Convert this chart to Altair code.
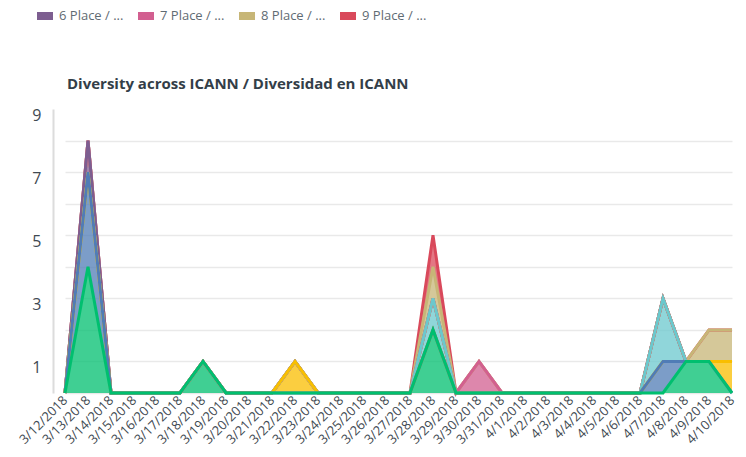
import altair as alt
import pandas as pd

dates = ["3/12/2018", "3/13/2018", "3/14/2018", "3/15/2018", "3/16/2018", "3/17/2018",
         "3/18/2018", "3/19/2018", "3/20/2018", "3/21/2018", "3/22/2018", "3/23/2018",
         "3/24/2018", "3/25/2018", "3/26/2018", "3/27/2018", "3/28/2018", "3/29/2018",
         "3/30/2018", "3/31/2018", "4/1/2018", "4/2/2018", "4/3/2018", "4/4/2018",
         "4/5/2018", "4/6/2018", "4/7/2018", "4/8/2018", "4/9/2018", "4/10/2018"]

series = ["1 Place / 1 Lugar", "2 Place / 2 Lugar", "3 Place / 3 Lugar",
          "4 Place / 4 Lugar", "5 Place / 5 Lugar", "6 Place / 6 Lugar",
          "7 Place / 7 Lugar", "8 Place / 8 Lugar", "9 Place / 9 Lugar"]

colors = ["#00BF6F", "#507CB6", "#F9BE00", "#6BC8CD", "#FF8B4F",
          "#7D5E90", "#D25F90", "#C7B677", "#D9495B"]

place1 = [0, 4, 0, 0, 0, 0, 1, 0, 0, 0, 0, 0, 0, 0, 0, 0, 2, 0, 0, 0, 0, 0, 0, 0, 0, 0, 0, 1, 1, 0]
place2 = [0, 3, 0, 0, 0, 0, 0, 0, 0, 0, 0, 0, 0, 0, 0, 0, 0, 0, 0, 0, 0, 0, 0, 0, 0, 0, 1, 0, 0, 0]
place3 = [0, 0, 0, 0, 0, 0, 0, 0, 0, 0, 1, 0, 0, 0, 0, 0, 0, 0, 0, 0, 0, 0, 0, 0, 0, 0, 0, 0, 0, 1]
place4 = [0, 0, 0, 0, 0, 0, 0, 0, 0, 0, 0, 0, 0, 0, 0, 0, 1, 0, 0, 0, 0, 0, 0, 0, 0, 0, 2, 0, 0, 0]
place5 = [0, 0, 0, 0, 0, 0, 0, 0, 0, 0, 0, 0, 0, 0, 0, 0, 0, 0, 0, 0, 0, 0, 0, 0, 0, 0, 0, 0, 0, 0]
place6 = [0, 1, 0, 0, 0, 0, 0, 0, 0, 0, 0, 0, 0, 0, 0, 0, 0, 0, 0, 0, 0, 0, 0, 0, 0, 0, 0, 0, 0, 0]
place7 = [0, 0, 0, 0, 0, 0, 0, 0, 0, 0, 0, 0, 0, 0, 0, 0, 0, 0, 1, 0, 0, 0, 0, 0, 0, 0, 0, 0, 0, 0]
place8 = [0, 0, 0, 0, 0, 0, 0, 0, 0, 0, 0, 0, 0, 0, 0, 0, 1, 0, 0, 0, 0, 0, 0, 0, 0, 0, 0, 0, 1, 1]
place9 = [0, 0, 0, 0, 0, 0, 0, 0, 0, 0, 0, 0, 0, 0, 0, 0, 1, 0, 0, 0, 0, 0, 0, 0, 0, 0, 0, 0, 0, 0]

values = [place1, place2, place3, place4, place5, place6, place7, place8, place9]

chart_title = "Diversity across ICANN / Diversidad en ICANN"

rows = []
for k, (name, vals) in enumerate(zip(series, values)):
    for d, v in zip(dates, vals):
        rows.append({"date": d, "series": name, "order": k, "value": v})
df = pd.DataFrame(rows)

FONT = "Open Sans"

base = alt.Chart(df).transform_stack(
    stack="value", groupby=["date"], as_=["y0", "y1"],
    sort=[alt.SortField("order", order="ascending")]
)

x_enc = alt.X("date:O", sort=dates, title=None,
              scale=alt.Scale(type="point", range=[12, 679], padding=0),
              axis=alt.Axis(labelAngle=-45, labelAlign="right", labelBaseline="middle",
                            labelPadding=5, ticks=False, grid=False, domain=False,
                            labelFont=FONT, labelFontSize=13, labelColor="#3f4a52"))
y_enc = alt.Y("y1:Q", title=None,
              scale=alt.Scale(domain=[0, 9], nice=False),
              axis=alt.Axis(values=list(range(10)),
                            labelExpr="datum.value % 2 == 1 ? datum.label : ''",
                            ticks=False, grid=True, gridColor="#e9e9e9", gridWidth=1.5,
                            gridOpacity={"condition": {"test": "datum.value == 9", "value": 0},
                                         "value": 1},
                            domainColor="#dcdcdc", domainWidth=2, labelPadding=12,
                            labelOffset=6,
                            labelFont=FONT, labelFontSize=16, labelColor="#3f4a52"))

legend = alt.Legend(orient="none", legendX=-16, legendY=-101, direction="horizontal",
                    values=series[5:9], title=None,
                    labelExpr="split(datum.label, ' / ')[0] + ' / ...'",
                    symbolType="M-1,-0.5H1V0.5H-1Z", symbolSize=256,
                    symbolStrokeWidth=0, symbolOpacity=1, labelOffset=6,
                    labelFont=FONT, labelFontSize=13, labelColor="#5f6b73",
                    columnPadding=14)

color_enc = alt.Color("series:N", scale=alt.Scale(domain=series, range=colors),
                      legend=legend)

layers = []
for k in reversed(range(len(series))):
    name = series[k]
    layers.append(
        base.transform_filter(alt.datum.series == name)
        .mark_area(opacity=0.75)
        .encode(x=x_enc, y=y_enc, y2="y0:Q", color=color_enc)
    )
for k in reversed(range(len(series))):
    name = series[k]
    layers.append(
        base.transform_filter(alt.datum.series == name)
        .mark_line(strokeWidth=3, color=colors[k])
        .encode(x=x_enc, y=y_enc)
    )

title_layer = alt.Chart(pd.DataFrame({"t": [chart_title]})).mark_text(
    align="left", baseline="alphabetic", font=FONT, fontSize=15,
    fontWeight="bold", color="#333e48"
).encode(x=alt.value(14), y=alt.value(-20), text="t:N")
layers.append(title_layer)

chart = alt.layer(*layers).properties(
    width=685, height=284,
    autosize=alt.AutoSizeParams(type="none"),
    padding={"left": 45, "top": 101, "right": 0, "bottom": 56},
).configure_view(stroke=None)

chart.save("out.html", embed_options={"renderer": "svg", "actions": False})
